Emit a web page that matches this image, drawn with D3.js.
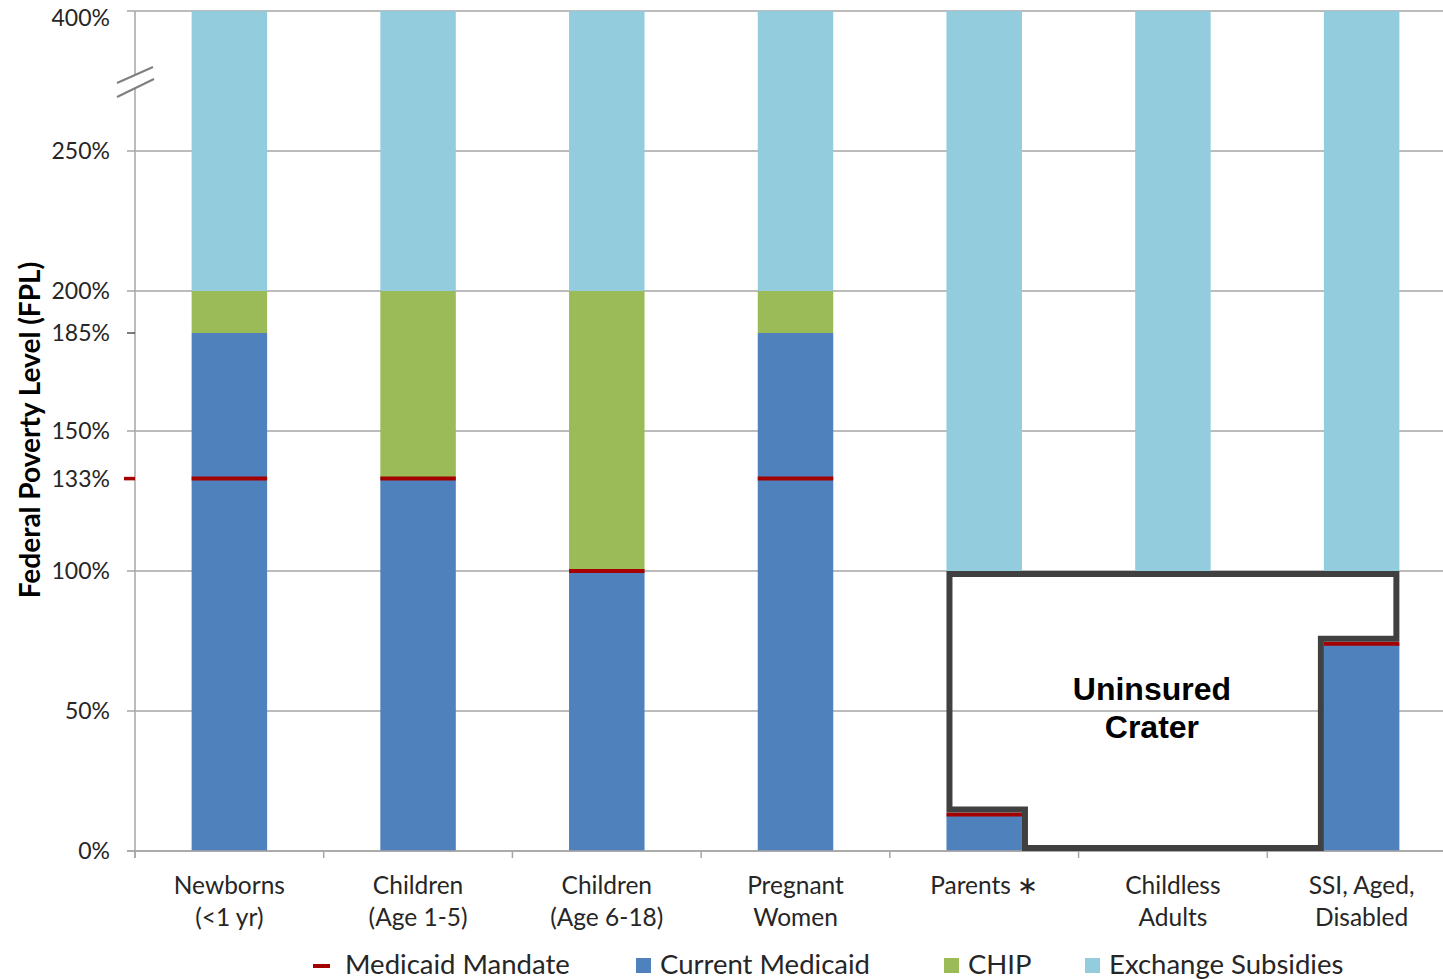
<!DOCTYPE html>
<html><head><meta charset="utf-8">
<script src="https://cdn.jsdelivr.net/npm/d3@7"></script>
<style>body{margin:0;background:#fff}svg{display:block}</style>
</head><body>
<svg id="c" width="1443" height="979"></svg>
<script>
const categories = ["Newborns|(<1 yr)","Children|(Age 1-5)","Children|(Age 6-18)","Pregnant|Women","Parents \u2217|","Childless|Adults","SSI, Aged,|Disabled"];
const medicaid = [185,133,100,185,13,0,74];
const chip     = [15,67,100,15,0,0,0];
const exchangeStart = [200,200,200,200,100,100,100];
const exchangeEnd   = [400,400,400,400,400,400,400];
const mandate  = [133,133,100,133,13,null,74];
const yTicks = [0,50,100,133,150,185,200,250,400];
const gridTicks = [0,50,100,150,200,250,400];
const legendItems = ["Medicaid Mandate","Current Medicaid","CHIP","Exchange Subsidies"];
const colors = {medicaid:"#4F81BD", chip:"#9BBB59", exchange:"#93CDDD", mandate:"#A50000", grid:"#A6A6A6", outline:"#404040"};

const svg = d3.select("#c");
const x = d3.scaleBand().domain(categories).range([135,1456]).paddingInner(0.6).paddingOuter(0.3);
const y = d3.scaleLinear().domain([0,250,400]).range([851,151,11]);

// gridlines
svg.append("g").selectAll("line").data(gridTicks).join("line")
  .attr("x1",127).attr("x2",1443).attr("y1",d=>y(d)).attr("y2",d=>y(d))
  .attr("stroke",colors.grid).attr("stroke-width",1.3);

// bars
const g = svg.append("g");
categories.forEach((c,i)=>{
  const x0 = x(c), w = x.bandwidth();
  if (medicaid[i]>0) g.append("rect").attr("x",x0).attr("width",w).attr("y",y(medicaid[i])).attr("height",y(0)-y(medicaid[i])).attr("fill",colors.medicaid);
  if (chip[i]>0) g.append("rect").attr("x",x0).attr("width",w).attr("y",y(medicaid[i]+chip[i])).attr("height",y(medicaid[i])-y(medicaid[i]+chip[i])).attr("fill",colors.chip);
  g.append("rect").attr("x",x0).attr("width",w).attr("y",y(exchangeEnd[i])).attr("height",y(exchangeStart[i])-y(exchangeEnd[i])).attr("fill",colors.exchange);
});

// y axis line
svg.append("line").attr("x1",135).attr("x2",135).attr("y1",y(400)).attr("y2",y(0)+7).attr("stroke",colors.grid).attr("stroke-width",1.5);
// x axis
svg.append("line").attr("x1",127).attr("x2",1443).attr("y1",y(0)).attr("y2",y(0)).attr("stroke",colors.grid).attr("stroke-width",1.5);
svg.append("g").selectAll("line").data(d3.range(categories.length)).join("line")
  .attr("x1",i=>x.range()[0]+i*x.step()).attr("x2",i=>x.range()[0]+i*x.step())
  .attr("y1",y(0)).attr("y2",y(0)+7).attr("stroke",colors.grid).attr("stroke-width",1.5);

// special ticks
svg.append("line").attr("x1",127).attr("x2",135).attr("y1",y(185)).attr("y2",y(185)).attr("stroke","#333").attr("stroke-width",1.3);
svg.append("line").attr("x1",124).attr("x2",135).attr("y1",y(133)).attr("y2",y(133)).attr("stroke",colors.mandate).attr("stroke-width",3.5);

// y tick labels
svg.append("g").selectAll("text").data(yTicks).join("text")
  .attr("x",110).attr("y",d=>d===400 ? y(d)+7 : y(d)).attr("dy","0.36em").attr("text-anchor","end")
  .attr("font-family","Lato").attr("font-size",23).attr("fill","#262626").text(d=>d+"%");

// axis break
const by = 82;
svg.append("path").attr("d",`M118,${by+1} L154,${by-15} L154,${by-3} L118,${by+13} Z`).attr("fill","#fff");
svg.append("line").attr("x1",117).attr("y1",by+1).attr("x2",153).attr("y2",by-15).attr("stroke","#7f7f7f").attr("stroke-width",2);
svg.append("line").attr("x1",117).attr("y1",by+15).attr("x2",154).attr("y2",by-3).attr("stroke","#7f7f7f").attr("stroke-width",2);

// mandate lines
svg.append("g").selectAll("line").data(categories.map((c,i)=>({c,v:mandate[i]})).filter(d=>d.v!==null)).join("line")
  .attr("x1",d=>x(d.c)).attr("x2",d=>x(d.c)+x.bandwidth())
  .attr("y1",d=>y(d.v)).attr("y2",d=>y(d.v))
  .attr("stroke",colors.mandate).attr("stroke-width",4);

// uninsured crater outline
const iP = 4, iC = 5, iS = 6, s = 3;
const pL = x(categories[iP]), pR = pL + x.bandwidth();
const sL = x(categories[iS]), sR = sL + x.bandwidth();
const pts = [
  [pL+s, y(100)+s],
  [sR-s, y(100)+s],
  [sR-s, y(medicaid[iS])-s-2],
  [sL-s, y(medicaid[iS])-s-2],
  [sL-s, y(0)-s],
  [pR+s, y(0)-s],
  [pR+s, y(medicaid[iP])-s-2],
  [pL+s, y(medicaid[iP])-s-2]
];
svg.append("path").attr("d",d3.line()(pts)+"Z").attr("fill","none")
  .attr("stroke",colors.outline).attr("stroke-width",6).attr("stroke-linejoin","miter");
const cx = x(categories[iC]) + x.bandwidth()/2 - 21;
svg.append("text").attr("x",cx).attr("y",700).attr("text-anchor","middle")
  .attr("font-family","Liberation Sans, Arial").attr("font-weight","bold").attr("font-size",32).attr("fill","#000").text("Uninsured");
svg.append("text").attr("x",cx).attr("y",738).attr("text-anchor","middle")
  .attr("font-family","Liberation Sans, Arial").attr("font-weight","bold").attr("font-size",32).attr("fill","#000").text("Crater");

// category labels
const cl = svg.append("g").attr("font-family","Lato").attr("font-size",24.5).attr("fill","#262626").attr("text-anchor","middle");
categories.forEach(c=>{
  const [a,b] = c.split("|");
  const cxx = x(c)+x.bandwidth()/2;
  cl.append("text").attr("x",cxx).attr("y",894).text(a);
  if (b) cl.append("text").attr("x",cxx).attr("y",926).text(b);
});

// y title
svg.append("text").attr("transform","translate(40,430) rotate(-90)").attr("text-anchor","middle")
  .attr("font-family","Lato").attr("font-weight","bold").attr("font-size",28).attr("fill","#000")
  .text("Federal Poverty Level (FPL)");

// legend
const leg = svg.append("g").attr("font-family","Lato").attr("font-size",27.5).attr("fill","#262626");
const legX = [313, 636, 944, 1085];
const legC = [colors.mandate, colors.medicaid, colors.chip, colors.exchange];
legendItems.forEach((t,i)=>{
  if (i===0) leg.append("rect").attr("x",legX[i]).attr("y",964).attr("width",17).attr("height",4).attr("fill",legC[i]);
  else leg.append("rect").attr("x",legX[i]).attr("y",958).attr("width",15).attr("height",15).attr("fill",legC[i]);
  leg.append("text").attr("x",legX[i]+(i===0?32:24)).attr("y",974).text(t);
});
</script>
</body></html>
